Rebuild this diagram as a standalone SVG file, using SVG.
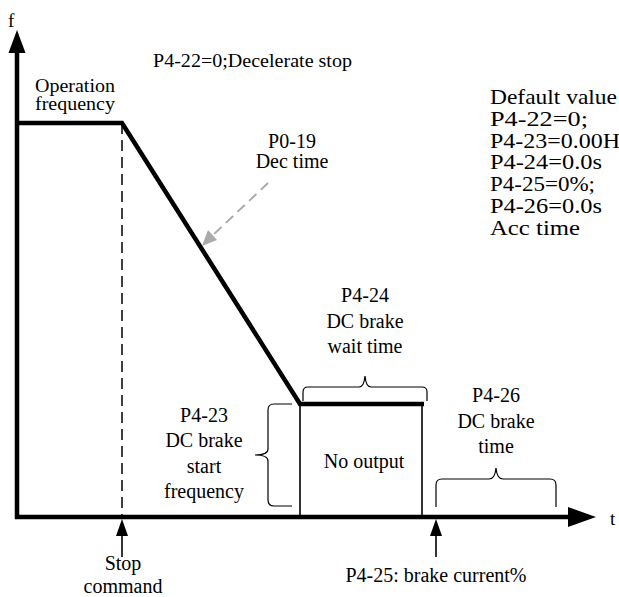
<svg xmlns="http://www.w3.org/2000/svg" width="619" height="597" viewBox="0 0 619 597">
<defs>
<style>
text{font-family:"Liberation Serif","Times New Roman",serif;fill:#000}
.t{font-size:20px}
.c{text-anchor:middle}
.dv{font-size:21px}
.thick{stroke:#000;stroke-width:4.5;fill:none}
.thin{stroke:#000;stroke-width:1.6;fill:none}
.brace{stroke:#000;stroke-width:1.2;fill:none}
</style>
</defs>
<g id="connectors">
<line x1="17" y1="519" x2="17" y2="50" class="thick"/>
<path d="M17,30 L8.5,53 L25.5,53 z" fill="#000"/>
<line x1="15" y1="517" x2="570" y2="517" class="thick"/>
<path d="M596,517 L568,507 L568,527 z" fill="#000"/>
<polyline points="17,123 122,123 300,404 424,404" class="thick"/>
<line x1="122" y1="123" x2="122" y2="517" stroke="#000" stroke-width="1.5" stroke-dasharray="11,6"/>
<line x1="300" y1="404" x2="300" y2="517" class="thin"/>
<line x1="422" y1="404" x2="422" y2="517" class="thin"/>
<line x1="268" y1="183" x2="212" y2="236" stroke="#aaa" stroke-width="2" stroke-dasharray="10,6"/>
<path d="M202,246 L208,230 L217,240 z" fill="#aaa"/>
<line x1="122" y1="557" x2="122" y2="534" class="thin"/>
<path d="M122,519 L116,536 L128,536 z" fill="#000"/>
<line x1="436" y1="557" x2="436" y2="534" class="thin"/>
<path d="M436,519 L430,536 L442,536 z" fill="#000"/>
<path d="M303,401 L303,392 Q303,387 308,387 L359,387 Q364,387 365,376 Q366,387 371,387 L422,387 Q427,387 427,392 L427,401" class="brace"/>
<path d="M292,404 L274,404 Q268,404 268,410 L268,449 Q268,455 255,455 Q268,455 268,461 L268,500 Q268,506 274,506 L292,506" class="brace"/>
<path d="M436,507 L436,485 Q436,479 442,479 L489,479 Q495,479 496,468 Q497,479 503,479 L550,479 Q556,479 556,485 L556,507" class="brace"/>
</g>
<g id="axis-labels">
<text x="8" y="27" font-size="19">f</text>
<text x="610" y="525" font-size="19">t</text>
</g>
<g id="title"><text x="153" y="67" font-size="19" textLength="199" lengthAdjust="spacingAndGlyphs">P4-22=0;Decelerate stop</text></g>
<g id="operation-frequency">
<text x="35" y="92" font-size="18" textLength="80" lengthAdjust="spacingAndGlyphs">Operation</text>
<text x="35" y="110" font-size="18" textLength="80" lengthAdjust="spacingAndGlyphs">frequency</text>
</g>
<g id="dec-time">
<text x="292" y="148" class="t c">P0-19</text>
<text x="292" y="168" class="t c">Dec time</text>
</g>
<g id="default-value">
<text x="490" y="103.5" class="dv" textLength="127" lengthAdjust="spacingAndGlyphs">Default value</text>
<text x="490" y="125.5" class="dv" textLength="98" lengthAdjust="spacingAndGlyphs">P4-22=0;</text>
<text x="490" y="147.5" class="dv" textLength="130" lengthAdjust="spacingAndGlyphs">P4-23=0.00H</text>
<text x="490" y="169" class="dv" textLength="112" lengthAdjust="spacingAndGlyphs">P4-24=0.0s</text>
<text x="490" y="191" class="dv" textLength="105" lengthAdjust="spacingAndGlyphs">P4-25=0%;</text>
<text x="490" y="213" class="dv" textLength="112" lengthAdjust="spacingAndGlyphs">P4-26=0.0s</text>
<text x="490" y="235" class="dv" textLength="90" lengthAdjust="spacingAndGlyphs">Acc time</text>
</g>
<g id="p4-24">
<text x="365" y="302" class="t c">P4-24</text>
<text x="365" y="328" class="t c">DC brake</text>
<text x="365" y="353" class="t c">wait time</text>
</g>
<g id="p4-23">
<text x="204" y="422" class="t c">P4-23</text>
<text x="204" y="447" class="t c">DC brake</text>
<text x="204" y="473" class="t c">start</text>
<text x="204" y="498" class="t c">frequency</text>
</g>
<g id="no-output"><text x="364" y="468" class="t c">No output</text></g>
<g id="p4-26">
<text x="496" y="402" class="t c">P4-26</text>
<text x="496" y="428" class="t c">DC brake</text>
<text x="496" y="453" class="t c">time</text>
</g>
<g id="stop-command">
<text x="123" y="570" class="t c">Stop</text>
<text x="123" y="593" class="t c">command</text>
</g>
<g id="p4-25"><text x="436" y="582" class="t c">P4-25: brake current%</text></g>
</svg>
